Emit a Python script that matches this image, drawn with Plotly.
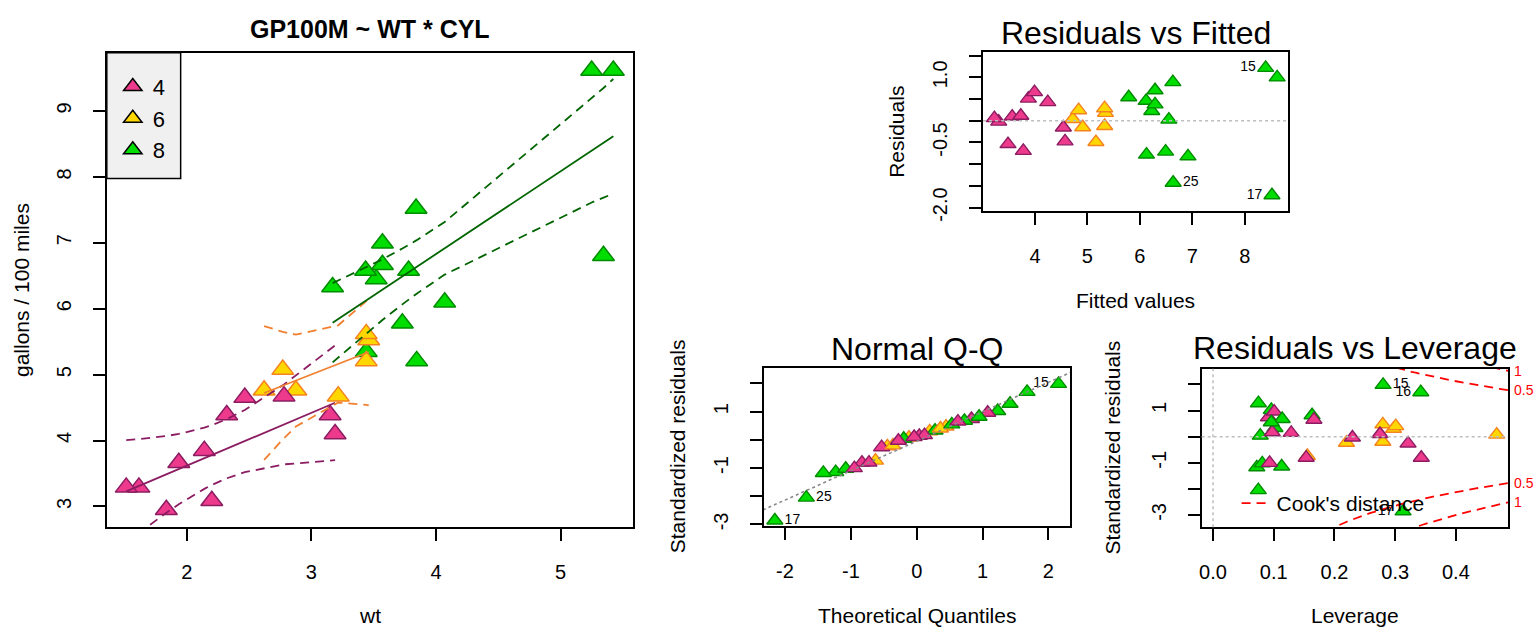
import numpy as np
import plotly.graph_objects as go

# ---------------- data (mtcars rows 1..32) ----------------
car_id = list(range(1, 33))
cyl = [6, 6, 4, 6, 8, 6, 8, 4, 4, 6, 6, 8, 8, 8, 8, 8, 8, 4, 4, 4, 4, 8, 8, 8, 8, 4, 4, 4, 8, 6, 8, 4]
wt = [2.620, 2.875, 2.320, 3.215, 3.440, 3.460, 3.570, 3.190, 3.150, 3.440, 3.440, 4.070, 3.730, 3.780,
      5.250, 5.424, 5.345, 2.200, 1.615, 1.835, 2.465, 3.520, 3.435, 3.840, 3.845, 1.935, 2.140, 1.513,
      3.170, 2.770, 3.570, 2.780]
gp100m = [4.762, 4.762, 4.386, 4.673, 5.348, 5.525, 6.993, 4.098, 4.386, 5.208, 5.618, 6.098, 5.780, 6.579,
          9.615, 9.615, 6.803, 3.086, 3.289, 2.950, 4.651, 6.452, 6.579, 7.519, 5.208, 3.663, 3.846, 3.289,
          6.329, 5.076, 6.667, 4.673]
fitted = [4.721, 4.910, 3.875, 5.162, 6.126, 5.343, 6.289, 4.573, 4.541, 5.328, 5.328, 6.916, 6.490, 6.552,
          8.397, 8.616, 8.517, 3.778, 3.309, 3.486, 3.991, 6.226, 6.119, 6.628, 6.634, 3.566, 3.730, 3.227,
          5.787, 4.832, 6.289, 4.244]
residuals = [0.041, -0.148, 0.511, -0.489, -0.778, 0.182, 0.704, -0.474, -0.155, -0.120, 0.290, -0.818,
             -0.710, 0.027, 1.218, 0.999, -1.714, -0.692, -0.020, -0.536, 0.660, 0.226, 0.460, 0.891,
             -1.426, 0.097, 0.116, 0.062, 0.542, 0.244, 0.378, 0.429]
std_resid = [0.078, -0.232, 0.741, -0.736, -1.142, 0.300, 1.024, -0.809, -0.260, -0.196, 0.472, -1.174,
             -1.024, 0.039, 1.985, 1.703, -2.860, -1.005, -0.032, -0.806, 0.962, 0.330, 0.676, 1.281,
             -2.050, 0.144, 0.169, 0.101, 0.819, 0.404, 0.550, 0.650]
leverage = [0.4672, 0.2198, 0.0913, 0.1554, 0.1131, 0.2971, 0.0960, 0.3430, 0.3212, 0.2797, 0.2797, 0.0721,
            0.0811, 0.0778, 0.2801, 0.3422, 0.3130, 0.0932, 0.2296, 0.1535, 0.1008, 0.1021, 0.1139, 0.0748,
            0.0746, 0.1288, 0.0975, 0.2750, 0.1631, 0.3010, 0.0960, 0.1662]
theo_quant = [-0.118, -0.445, 0.831, -0.626, -1.230, 0.197, 1.230, -0.831, -0.533, -0.360, 0.445, -1.418,
              -1.078, -0.197, 2.154, 1.676, -2.154, -0.947, -0.278, -0.725, 1.078, 0.278, 0.725, 1.418,
              -1.676, 0.039, 0.118, -0.039, 0.947, 0.360, 0.533, 0.626]
ci_lower = [3.705, 4.213, 3.426, 4.576, 5.626, 4.533, 5.828, 3.702, 3.698, 4.542, 4.542, 6.517, 6.066, 6.138,
            7.611, 7.746, 7.685, 3.325, 2.597, 2.903, 3.519, 5.751, 5.618, 6.221, 6.228, 3.032, 3.266, 2.448,
            5.186, 4.016, 5.828, 3.638]
ci_upper = [5.737, 5.607, 4.324, 5.748, 6.626, 6.153, 6.749, 5.443, 5.383, 6.114, 6.114, 7.315, 6.913, 6.967,
            9.184, 9.485, 9.348, 4.232, 4.021, 4.068, 4.463, 6.701, 6.621, 7.034, 7.040, 4.099, 4.194, 4.007,
            6.387, 5.648, 6.749, 4.850]
qq_slope, qq_intercept = 1.0445, -0.0483
n_params = 6
cook_levels = [0.5, 1.0]
groups = [4, 6, 8]

# labelled points per panel: id -> side
lab_rvf = {15: "middle left", 17: "middle left", 25: "middle right"}
lab_qq = {15: "middle left", 25: "middle right", 17: "middle right"}
lab_lev = {15: "middle right", 16: "middle left", 17: "middle left"}

# ---------------- styles ----------------
FILL = {4: "#EE3A8C", 6: "#FFD700", 8: "#00DD00"}
EDGE = {4: "#8B1C62", 6: "#F58220", 8: "#008B00"}
LINEC = {4: "#8B1C62", 6: "#F08030", 8: "#006400"}
FONT = "Liberation Sans, Arial, sans-serif"
W, H = 1536, 633
H_EFF = 625.0  # effective rendered paper height observed in the sandbox


def px_x(p):
    return p / W


def px_y(p):
    return 1 - p / H_EFF


fills = [FILL[c] for c in cyl]
edges = [EDGE[c] for c in cyl]

fig = go.Figure()

# ---------- panel A: scatter with group fits ----------
for g in groups:
    fig.add_trace(go.Scatter(x=[None], y=[None], mode="markers", name=str(g), legend="legend",
                             marker=dict(symbol="triangle-up", size=16, color=FILL[g],
                                         line=dict(color="black", width=1.5)),
                             xaxis="x", yaxis="y"))
fig.add_trace(go.Scatter(x=wt, y=gp100m, mode="markers", showlegend=False,
                         marker=dict(symbol="triangle-up", size=19, color=fills,
                                     line=dict(color=edges, width=1.5)),
                         xaxis="x", yaxis="y"))
for g in groups:
    idx = sorted([i for i in range(32) if cyl[i] == g], key=lambda i: wt[i])
    xs = [wt[i] for i in idx]
    fig.add_trace(go.Scatter(x=xs, y=[fitted[i] for i in idx], mode="lines", showlegend=False,
                             line=dict(color=LINEC[g], width=1.8), xaxis="x", yaxis="y"))
    for arr in (ci_lower, ci_upper):
        fig.add_trace(go.Scatter(x=xs, y=[arr[i] for i in idx], mode="lines", showlegend=False,
                                 line=dict(color=LINEC[g], width=1.8, dash="9px,6px"),
                                 xaxis="x", yaxis="y"))


def diag_points(xv, yv, labels, xa, ya):
    txt = [str(k) if k in labels else "" for k in car_id]
    pos = [labels.get(k, "middle right") for k in car_id]
    return go.Scatter(x=xv, y=yv, mode="markers+text", showlegend=False, text=txt, textposition=pos,
                      textfont=dict(size=14, color="black", family=FONT),
                      marker=dict(symbol="triangle-up", size=14, color=fills,
                                  line=dict(color=edges, width=1.4)),
                      xaxis=xa, yaxis=ya)


# ---------- panel B: residuals vs fitted ----------
fig.add_trace(diag_points(fitted, residuals, lab_rvf, "x2", "y2"))

# ---------- panel C: normal Q-Q ----------
fig.add_trace(diag_points(theo_quant, std_resid, lab_qq, "x3", "y3"))
qx = np.array([-3.0, 3.0])
fig.add_trace(go.Scatter(x=qx, y=qq_intercept + qq_slope * qx, mode="lines", showlegend=False,
                         line=dict(color="#888888", width=1.6, dash="dot"), xaxis="x3", yaxis="y3"))

# ---------- panel D: residuals vs leverage ----------
fig.add_trace(diag_points(leverage, std_resid, lab_lev, "x4", "y4"))
lev_range = [-0.0187, 0.4859]
hh = np.linspace(min(min(leverage), max(leverage) / 100), lev_range[1], 101)
first = True
for crit in cook_levels:
    cl = np.sqrt(crit * n_params * (1 - hh) / hh)
    for sgn in (1, -1):
        fig.add_trace(go.Scatter(x=hh, y=sgn * cl, mode="lines", name="Cook's distance",
                                 showlegend=first, legend="legend2",
                                 line=dict(color="#FF0000", width=1.8, dash="9px,6px"),
                                 xaxis="x4", yaxis="y4"))
        first = False

# ---------------- axes ----------------
axis_common = dict(showline=True, linecolor="black", linewidth=1.5, mirror=True, ticks="outside",
                   ticklen=12, tickwidth=1.5, tickcolor="black", showgrid=False, zeroline=False,
                   tickfont=dict(size=20, color="black", family=FONT), ticklabelstandoff=14)


def dom(a, b, vertical=False):
    if vertical:
        return [px_y(b), px_y(a)]
    return [px_x(a), px_x(b)]


fig.update_layout(
    width=W, height=H, margin=dict(l=0, r=0, t=0, b=0),
    paper_bgcolor="white", plot_bgcolor="white", font=dict(family=FONT, color="black"),
    xaxis=dict(axis_common, domain=dom(104, 631), range=[1.357, 5.580], anchor="y",
               tickvals=[2, 3, 4, 5], ticktext=["2", "3", "4", "5"]),
    yaxis=dict(axis_common, domain=dom(53, 529, True), range=[2.683, 9.882], anchor="x",
               tickvals=[3, 4, 5, 6, 7, 8, 9], ticktext=[str(v) for v in range(3, 10)], tickangle=-90),
    xaxis2=dict(axis_common, domain=dom(982, 1288), range=[3.011, 8.832], anchor="y2",
                tickvals=[4, 5, 6, 7, 8], ticktext=["4", "5", "6", "7", "8"]),
    yaxis2=dict(axis_common, domain=dom(52, 212, True), range=[-2.085, 1.588], anchor="x2",
                tickvals=[-2, -1.5, -1, -0.5, 0, 0.5, 1, 1.5],
                ticktext=["-2.0", "", "", "-0.5", "", "", "1.0", ""], tickangle=-90),
    xaxis3=dict(axis_common, domain=dom(762, 1069), range=[-2.3264, 2.3264], anchor="y3",
                tickvals=[-2, -1, 0, 1, 2], ticktext=["-2", "-1", "0", "1", "2"]),
    yaxis3=dict(axis_common, domain=dom(369, 528, True), range=[-3.068, 2.556], anchor="x3",
                tickvals=[-3, -2, -1, 0, 1, 2], ticktext=["-3", "", "-1", "", "1", ""], tickangle=-90),
    xaxis4=dict(axis_common, domain=dom(1201, 1508), range=lev_range, anchor="y4",
                tickvals=[0, 0.1, 0.2, 0.3, 0.4], ticktext=["0.0", "0.1", "0.2", "0.3", "0.4"]),
    yaxis4=dict(axis_common, domain=dom(370, 529, True), range=[-3.473, 2.598], anchor="x4",
                tickvals=[-3, -2, -1, 0, 1, 2], ticktext=["-3", "", "-1", "", "1", ""], tickangle=-90),
    legend=dict(x=px_x(110), y=px_y(66), xanchor="left", yanchor="top", bgcolor="rgba(0,0,0,0)",
                borderwidth=0, font=dict(size=22, color="black", family=FONT)),
    legend2=dict(x=px_x(1236), y=px_y(505), xanchor="left", yanchor="middle", bgcolor="rgba(0,0,0,0)",
                 borderwidth=0, font=dict(size=21, color="black", family=FONT)),
)

# reference lines (dotted grey)
grey = dict(color="#BEBEBE", width=1.5, dash="dot")
fig.add_shape(type="line", xref="x2 domain", x0=0, x1=1, yref="y2", y0=0, y1=0, line=grey, layer="above")
fig.add_shape(type="line", xref="x4 domain", x0=0, x1=1, yref="y4", y0=0, y1=0, line=grey, layer="above")
fig.add_shape(type="line", xref="x4", x0=0, x1=0, yref="y4 domain", y0=0, y1=1, line=grey, layer="above")
# legend frame of panel A
fig.add_shape(type="rect", xref="paper", yref="paper", x0=px_x(104), x1=px_x(178), y0=px_y(179),
              y1=px_y(53), fillcolor="#F0F0F0", line=dict(color="black", width=1.5), layer="above")

# Cook's distance level labels on right side
xmax = lev_range[1]
ymult = np.sqrt(n_params * (1 - xmax) / xmax)
for crit in cook_levels:
    for sgn in (1, -1):
        fig.add_annotation(xref="x4 domain", x=1, yref="y4", y=sgn * np.sqrt(crit) * ymult,
                           text=("1" if crit == 1 else "0.5"), showarrow=False, xanchor="left", xshift=4,
                           font=dict(size=14, color="#FF0000", family=FONT))


# titles
def ann(text, x, y, size, angle=0, bold=False):
    fig.add_annotation(xref="paper", yref="paper", x=px_x(x), y=px_y(y),
                       text=(f"<b>{text}</b>" if bold else text),
                       showarrow=False, xanchor="center", yanchor="middle", textangle=angle,
                       font=dict(size=size, color="black", family=FONT))


ann("GP100M ~ WT * CYL", 367.5, 29, 25, bold=True)
ann("Residuals vs Fitted", 1135, 33, 32)
ann("Normal Q-Q", 915.5, 350, 32)
ann("Residuals vs Leverage", 1354.5, 349, 32)
# axis titles
ann("wt", 367.5, 617, 21)
ann("gallons / 100 miles", 18, 291, 21, angle=-90)
ann("Fitted values", 1135, 301, 21)
ann("Residuals", 895, 132, 21, angle=-90)
ann("Theoretical Quantiles", 915.5, 617, 21)
ann("Standardized residuals", 676, 448, 21, angle=-90)
ann("Leverage", 1354.5, 617, 21)
ann("Standardized residuals", 1112, 449, 21, angle=-90)

fig.write_html("out.html")
